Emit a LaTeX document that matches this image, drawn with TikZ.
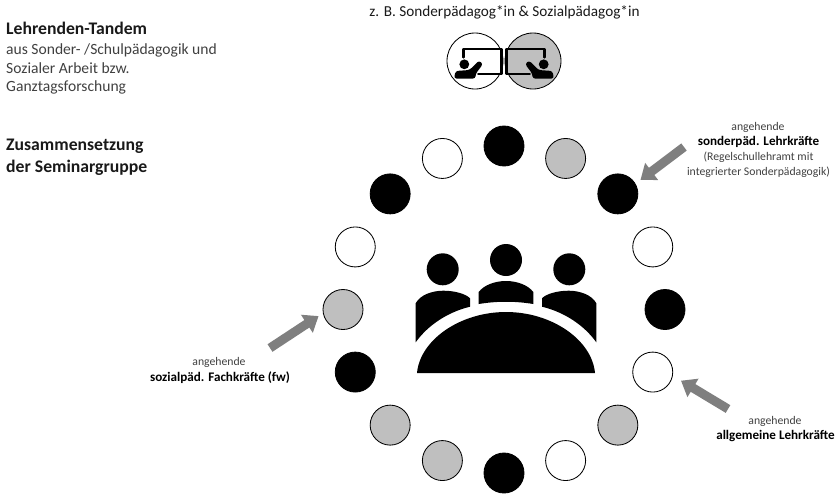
\documentclass[tikz,border=0pt]{standalone}
\usepackage{fontspec}
\usepackage{xcolor}
\setmainfont{Carlito}
\usetikzlibrary{arrows.meta}
\definecolor{seatgray}{HTML}{BFBFBF}
\definecolor{arrowgray}{HTML}{7F7F7F}
\definecolor{textgray}{HTML}{404040}
\tikzset{
	seat/.style={circle, draw=black, line width=0.025cm, minimum size=1.2cm, inner sep=0pt, outer sep=0pt},
	headtxt/.style={anchor=base west, inner sep=0pt, font=\fontsize{15.1}{17}\selectfont\bfseries, text=black!90},
	smalltxt/.style={align=center, inner sep=0pt, font=\fontsize{10}{12.6}\selectfont, text=textgray},
	roletxt/.style={align=center, inner sep=0pt, font=\fontsize{11.2}{14}\selectfont\bfseries, text=black},
	pointer/.style={draw=arrowgray, line width=0.27cm, -{Triangle[length=0.42cm,width=0.62cm]}},
	teacher/.pic={
		\draw[line width=0.08cm, line cap=round, line join=round] (-11.7,-3.7) -- (-11.7,-12) -- (26.7,-12) -- (26.7,13) -- (3.3,13);
		\fill (-10.7,3.3) circle (4.9);
		\fill[rounded corners=0.08cm] (-21,17.6) -- (-19.5,10) -- (-5.5,9) -- (4,-0.5) -- (8,3) -- (0.5,13) -- (0.5,17.6) -- cycle;
	}
}

\begin{document}
\begin{tikzpicture}[x=0.03cm, y=-0.03cm]
	\useasboundingbox (0,0) rectangle (839,493);

	% tandem
	\node[seat, minimum size=1.68cm, fill=white] (lead1) at (475,61) {};
	\node[seat, minimum size=1.68cm, fill=seatgray] (lead2) at (533,61) {};
	\pic at (lead1) {teacher};
	\pic[xscale=-1] at (lead2) {teacher};

	% seats
	\foreach \i/\seatcol in {0/black,1/seatgray,2/black,3/white,4/black,5/white,6/seatgray,7/white,8/black,9/seatgray,10/seatgray,11/black,12/seatgray,13/white,14/black,15/white}
		\node[seat, fill=\seatcol] (seat\i) at ({504+161*sin(22.5*\i)},{309.5-163.5*cos(22.5*\i)}) {};

	% table with persons
	\fill (442.7,269.3) circle (16) (506,260) circle (16) (569.3,269.3) circle (16);
	\fill (478.7,304) -- (478.7,292) .. controls (484,285) and (495,281) .. (506,281) .. controls (517,281) and (528,285) .. (533.3,292) -- (533.3,304) .. controls (515,301) and (497,301) .. (478.7,304) -- cycle;
	\fill (415.7,342.3) -- (415.7,303.3) .. controls (420,295) and (432,290.7) .. (443.3,290.7) .. controls (455,290.7) and (466,294) .. (470,298.3) -- (470,306.7) .. controls (448,312) and (428,325) .. (415.7,342.3) -- cycle;
	\fill (596.3,342.3) -- (596.3,303.3) .. controls (592,295) and (580,290.7) .. (568.7,290.7) .. controls (557,290.7) and (546,294) .. (542,298.3) -- (542,306.7) .. controls (564,312) and (584,325) .. (596.3,342.3) -- cycle;
	\fill (417,373) .. controls (420,340) and (460,312) .. (506,312) .. controls (552,312) and (592,340) .. (595,373) -- cycle;

	% texts
	\node[headtxt] (title1) at (6,34.5) {Lehrenden-Tandem};
	\node[anchor=north west, align=left, inner sep=0pt, font=\fontsize{13.3}{15.8}\selectfont, text=textgray] (sub1) at (6,43.5) {aus Sonder- /Schulpädagogik und\\Sozialer Arbeit bzw.\\Ganztagsforschung};
	\node[headtxt] (title2) at (6,150) {Zusammensetzung};
	\node[headtxt] (title3) at (6,172) {der Seminargruppe};
	\node[inner sep=0pt, font=\fontsize{13}{15}\selectfont, text=black!90] (tandem) at (504.5,12) {z. B. Sonderpädagog*in \& Sozialpädagog*in};

	\node[smalltxt] (lab1a) at (758,127) {angehende};
	\node[roletxt] (lab1b) at (758.5,142) {sonderpäd. Lehrkräfte};
	\node[smalltxt] (lab1c) at (758.5,165) {(Regelschullehramt mit\\integrierter Sonderpädagogik)};
	\node[smalltxt] (lab2a) at (219,362) {angehende};
	\node[roletxt] (lab2b) at (220,378) {sozialpäd. Fachkräfte (fw)};
	\node[smalltxt] (lab3a) at (775,421) {angehende};
	\node[roletxt] (lab3b) at (775.5,436) {allgemeine Lehrkräfte};

	% arrows
	\coordinate (from1) at (684,147);
	\coordinate (from2) at (270,348);
	\coordinate (from3) at (728,409);
	\draw[pointer, shorten >=0.2cm] (from1) -- (seat2.30);
	\draw[pointer, shorten >=0.17cm] (from2) -- (seat12.190);
	\draw[pointer, shorten >=0.3cm] (from3) -- (seat5.-10);
\end{tikzpicture}
\end{document}
